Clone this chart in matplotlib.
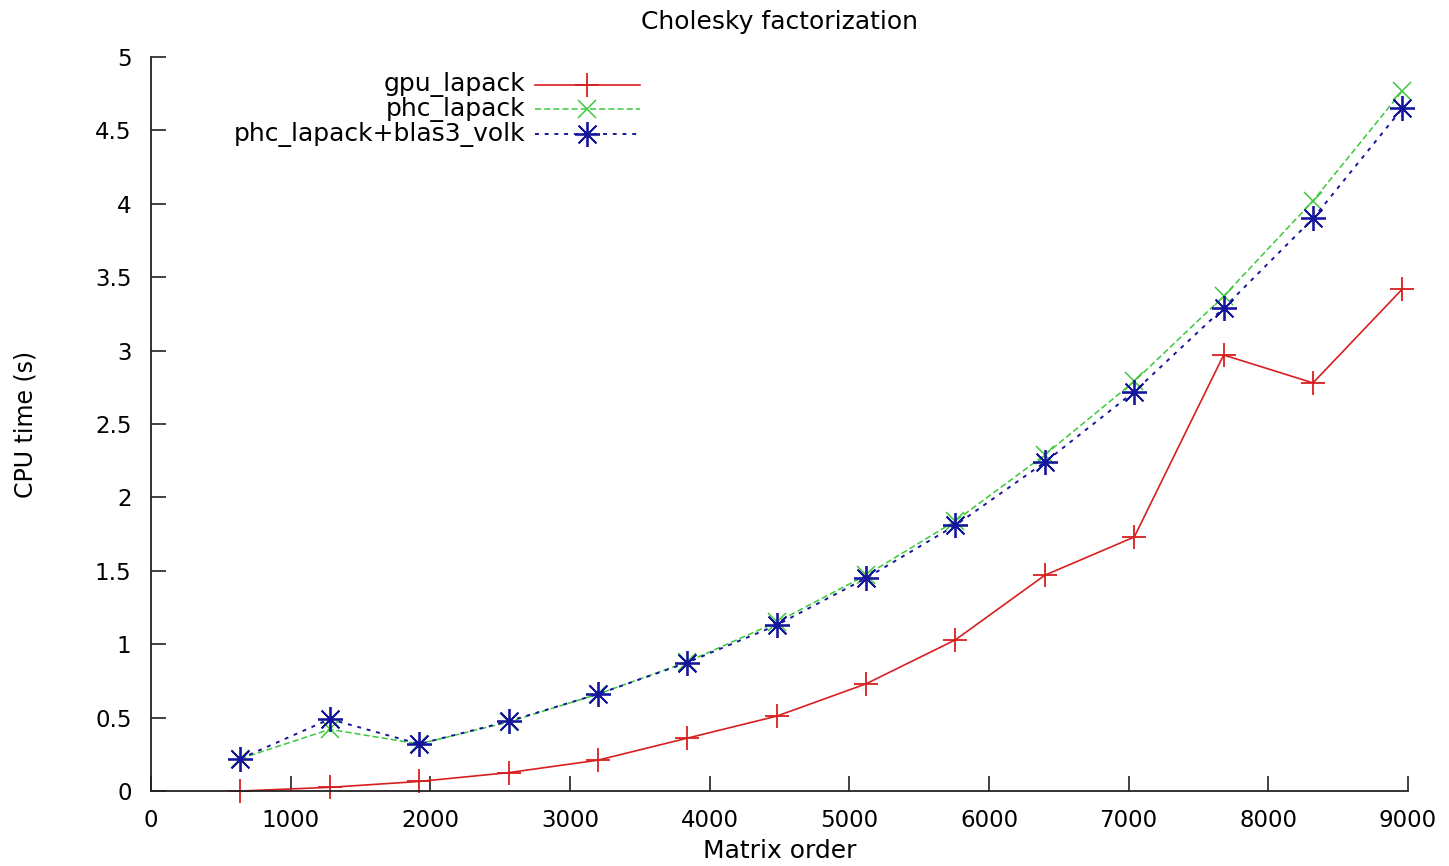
import matplotlib
matplotlib.use('Agg')
import matplotlib.pyplot as plt

plt.rcParams['font.family'] = ['DejaVu Sans']

# matrix orders used in the benchmark
orders = [640, 1280, 1920, 2560, 3200, 3840, 4480, 5120, 5760, 6400, 7040, 7680, 8320, 8960]

# CPU times in seconds
gpu_lapack = [0.0, 0.025, 0.065, 0.125, 0.21, 0.36, 0.51, 0.73, 1.03, 1.47, 1.73, 2.97, 2.78, 3.42]
phc_lapack = [0.22, 0.42, 0.32, 0.47, 0.66, 0.88, 1.15, 1.47, 1.84, 2.29, 2.79, 3.37, 4.02, 4.77]
phc_blas3 = [0.22, 0.49, 0.32, 0.475, 0.66, 0.875, 1.13, 1.45, 1.81, 2.24, 2.72, 3.29, 3.90, 4.65]

labels = ['gpu_lapack', 'phc_lapack', 'phc_lapack+blas3_volk']
xticks = [0, 1000, 2000, 3000, 4000, 5000, 6000, 7000, 8000, 9000]
yticks = [0, 0.5, 1, 1.5, 2, 2.5, 3, 3.5, 4, 4.5, 5]

red = '#d81f1f'
green = '#3cc83c'
blue = '#16169c'
star = (8, 2, 0)  # gnuplot-style asterisk: + and x together

styles = [
    dict(color=red, linestyle='-', lw=1.2, marker='+', ms=17, mew=1.3),
    dict(color=green, linestyle=(0, (4, 2)), lw=1.1, marker='x', ms=13, mew=1.1),
    dict(color=blue, linestyle=(0, (2, 3)), lw=1.4, marker=star, ms=18, mew=1.3),
]

fig = plt.figure(figsize=(14.49, 8.66), dpi=100)
fig.subplots_adjust(left=0.1042, right=0.9717, bottom=0.0866, top=0.9342)
ax = fig.add_subplot(111)

for ys, st in zip([gpu_lapack, phc_lapack, phc_blas3], styles):
    ax.plot(orders, ys, clip_on=False, **st)

ax.set_xlim(0, 9000)
ax.set_ylim(0, 5)
ax.set_xticks(xticks)
ax.set_yticks(yticks)
ax.set_yticklabels(['0', '0.5', '1', '1.5', '2', '2.5', '3', '3.5', '4', '4.5', '5'])

for side in ['top', 'right']:
    ax.spines[side].set_visible(False)
for side in ['left', 'bottom']:
    ax.spines[side].set_linewidth(1.3)
    ax.spines[side].set_color('#222222')

ax.tick_params(axis='both', direction='in', length=10.5, width=1.2, color='#222222', labelsize=16.5)
ax.tick_params(axis='y', pad=14)
ax.tick_params(axis='x', pad=13)

ax.set_title('Cholesky factorization', fontsize=18, pad=20)
ax.set_xlabel('Matrix order', fontsize=18)
ax.set_ylabel('CPU time (s)', fontsize=17)
ax.xaxis.set_label_coords(0.5, -0.066)
ax.yaxis.set_label_coords(-0.09, 0.5)

# key drawn gnuplot style: right-aligned text, sample line to the right
key_y = [0.962, 0.929, 0.895]
for lab, st, ky in zip(labels, styles, key_y):
    ax.text(0.2975, ky, lab, ha='right', va='center', fontsize=18, transform=ax.transAxes)
    line_st = {k: v for k, v in st.items() if k not in ('marker', 'ms', 'mew')}
    ax.plot([0.3055, 0.389], [ky, ky], transform=ax.transAxes, clip_on=False, **line_st)
    ax.plot([0.347], [ky], transform=ax.transAxes, clip_on=False, color=st['color'],
            linestyle='none', marker=st['marker'], ms=st['ms'], mew=st['mew'])

fig.savefig('out.png', dpi=100)
